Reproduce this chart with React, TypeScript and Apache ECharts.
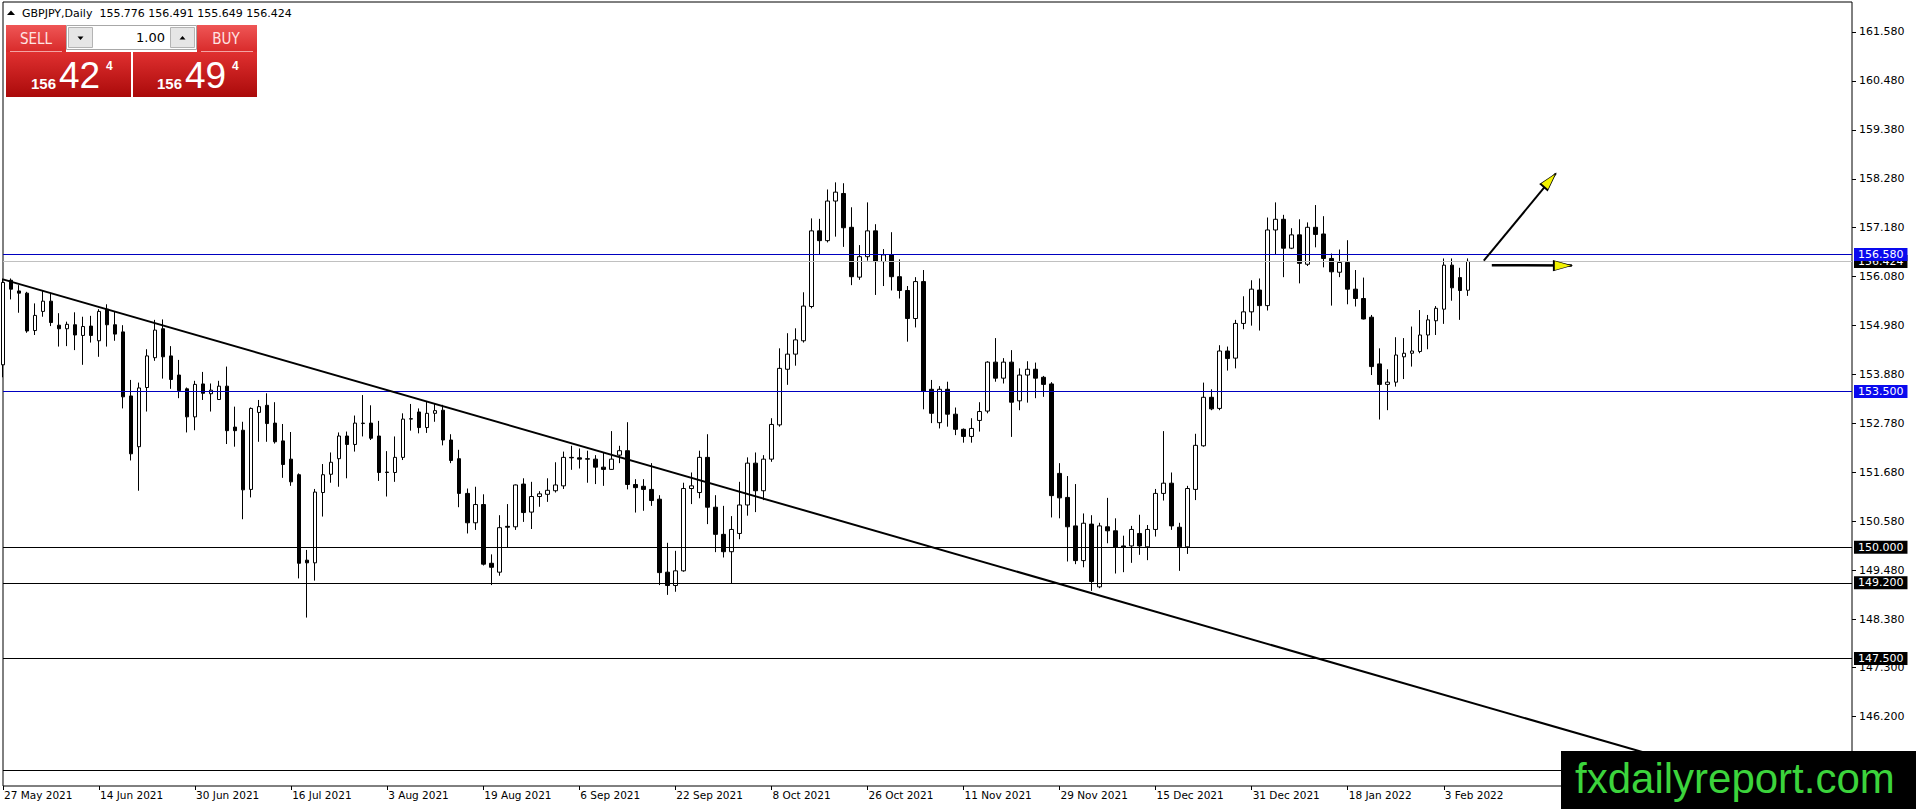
import React, { useEffect, useRef } from 'react'
import * as echarts from 'echarts'
import type { ECharts, EChartsOption } from 'echarts'

const FONT = "'DejaVu Sans', Verdana, sans-serif"
const SANS = "'Liberation Sans', Arial, sans-serif"
const NARROW = "'Liberation Sans Narrow', 'DejaVu Sans Condensed', 'Liberation Sans', sans-serif"

// daily bars, MT4 order: open, high, low, close (27 May 2021 .. 8 Feb 2022)
const candles: number[][] = [
  [154.1, 156.04, 153.82, 155.95],
  [156.0, 156.04, 155.57, 155.8],
  [155.76, 155.89, 155.27, 155.71],
  [155.71, 155.74, 154.82, 154.86],
  [154.87, 155.48, 154.77, 155.21],
  [155.3, 155.78, 155.18, 155.53],
  [155.53, 155.71, 154.97, 155.05],
  [154.99, 155.26, 154.51, 154.91],
  [154.91, 155.07, 154.52, 155.01],
  [155.0, 155.28, 154.43, 154.77],
  [154.76, 155.18, 154.1, 154.96],
  [154.97, 155.2, 154.6, 154.76],
  [154.64, 155.35, 154.28, 155.3],
  [155.35, 155.46, 154.51, 155.0],
  [155.0, 155.3, 154.64, 154.79],
  [154.84, 154.99, 153.12, 153.38],
  [153.4, 153.76, 151.95, 152.1],
  [152.26, 153.7, 151.27, 153.58],
  [153.59, 154.45, 153.05, 154.3],
  [154.26, 155.11, 154.19, 154.88],
  [154.91, 155.12, 153.79, 154.28],
  [154.3, 154.52, 153.56, 153.77],
  [153.87, 154.21, 153.35, 153.52],
  [153.56, 153.59, 152.58, 152.93],
  [152.93, 153.74, 152.63, 153.66],
  [153.67, 153.94, 153.31, 153.46],
  [153.45, 153.68, 153.05, 153.53],
  [153.32, 153.74, 153.31, 153.62],
  [153.62, 154.06, 152.32, 152.62],
  [152.7, 153.16, 152.26, 152.62],
  [152.63, 152.82, 150.63, 151.29],
  [151.3, 153.14, 151.12, 153.12],
  [153.03, 153.31, 152.37, 153.16],
  [153.19, 153.46, 152.37, 152.78],
  [152.79, 153.26, 152.33, 152.37],
  [152.39, 152.77, 151.56, 151.86],
  [151.98, 152.59, 151.38, 151.47],
  [151.63, 151.66, 149.3, 149.64],
  [149.71, 149.94, 148.42, 149.65],
  [149.65, 151.31, 149.25, 151.24],
  [151.23, 151.87, 150.69, 151.63],
  [151.64, 152.13, 151.45, 151.91],
  [151.99, 152.58, 151.36, 152.5],
  [152.5, 152.6, 151.55, 152.31],
  [152.31, 152.96, 152.15, 152.79],
  [152.78, 153.42, 152.49, 152.79],
  [152.79, 153.19, 152.41, 152.45],
  [152.5, 152.84, 151.49, 151.68],
  [151.69, 152.16, 151.14, 151.68],
  [151.68, 152.49, 151.47, 152.02],
  [152.02, 153.01, 151.96, 152.88],
  [152.88, 153.22, 152.62, 152.89],
  [153.04, 153.12, 152.56, 152.69],
  [152.69, 153.27, 152.57, 153.01],
  [153.01, 153.22, 152.82, 153.07],
  [153.08, 153.2, 152.29, 152.41],
  [152.41, 152.54, 151.89, 151.95],
  [151.99, 152.19, 150.9, 151.21],
  [151.21, 151.32, 150.31, 150.55],
  [150.55, 151.36, 150.39, 150.96],
  [150.96, 151.19, 149.59, 149.62],
  [149.64, 149.84, 149.15, 149.55],
  [149.44, 150.72, 149.36, 150.44],
  [150.47, 150.97, 150.0, 150.45],
  [150.46, 151.41, 150.39, 151.4],
  [151.42, 151.55, 150.57, 150.78],
  [150.79, 151.47, 150.41, 151.14],
  [151.14, 151.26, 150.91, 151.2],
  [151.19, 151.55, 151.02, 151.28],
  [151.27, 151.91, 151.23, 151.4],
  [151.38, 152.15, 151.31, 152.02],
  [152.02, 152.28, 151.74, 152.01],
  [152.01, 152.22, 151.77, 151.98],
  [151.99, 152.17, 151.45, 151.98],
  [151.98, 152.07, 151.42, 151.8],
  [151.8, 152.13, 151.38, 151.75],
  [151.75, 152.61, 151.74, 151.98],
  [152.07, 152.28, 151.89, 152.17],
  [152.17, 152.81, 151.3, 151.41],
  [151.41, 151.53, 150.78, 151.34],
  [151.37, 151.53, 150.82, 151.3],
  [151.3, 151.89, 150.93, 151.05],
  [151.08, 151.17, 149.15, 149.43],
  [149.44, 150.1, 148.93, 149.14],
  [149.14, 149.92, 149.0, 149.47],
  [149.47, 151.45, 149.45, 151.32],
  [151.32, 151.68, 150.97, 151.38],
  [151.23, 152.17, 151.1, 152.02],
  [152.02, 152.54, 150.52, 150.9],
  [150.9, 151.17, 149.89, 150.29],
  [150.29, 150.93, 149.77, 149.9],
  [149.9, 150.7, 149.19, 150.4],
  [150.31, 151.47, 150.18, 150.95],
  [150.95, 152.02, 150.71, 151.89],
  [151.89, 152.13, 150.79, 151.27],
  [151.27, 152.07, 151.06, 151.98],
  [151.98, 152.9, 151.92, 152.76],
  [152.75, 154.47, 152.71, 154.02],
  [154.0, 154.81, 153.65, 154.34],
  [154.34, 154.92, 154.08, 154.66],
  [154.64, 155.73, 154.6, 155.42],
  [155.41, 157.39, 155.37, 157.11],
  [157.11, 157.38, 156.57, 156.89],
  [156.89, 158.04, 156.85, 157.78],
  [157.78, 158.2, 156.98, 157.98],
  [157.95, 158.18, 156.75, 157.18],
  [157.19, 157.64, 155.89, 156.08],
  [156.07, 156.79, 156.01, 156.53],
  [156.53, 157.75, 156.44, 157.11],
  [157.11, 157.26, 155.67, 156.42],
  [156.42, 156.7, 155.87, 156.57],
  [156.57, 157.08, 155.77, 156.08],
  [156.08, 156.47, 155.59, 155.77],
  [155.77, 155.87, 154.62, 155.14],
  [155.14, 156.07, 154.94, 155.97],
  [155.97, 156.23, 153.1, 153.51],
  [153.55, 153.76, 152.79, 153.01],
  [152.8, 153.62, 152.67, 153.55],
  [153.55, 153.72, 152.71, 152.99],
  [152.99, 153.14, 152.52, 152.65],
  [152.65, 152.67, 152.35, 152.49],
  [152.49, 152.9, 152.35, 152.67],
  [152.85, 153.26, 152.6, 153.05],
  [153.06, 154.18, 153.01, 154.16],
  [154.16, 154.7, 153.72, 153.8],
  [153.8, 154.25, 153.68, 154.16],
  [154.16, 154.43, 152.48, 153.26],
  [153.29, 154.02, 153.08, 153.87],
  [153.87, 154.18, 153.25, 154.0],
  [154.0, 154.15, 153.35, 153.8],
  [153.82, 153.85, 153.38, 153.66],
  [153.67, 153.71, 150.67, 151.16],
  [151.66, 151.89, 150.65, 151.11],
  [151.12, 151.6, 149.68, 150.46],
  [150.48, 151.42, 149.62, 149.7],
  [149.7, 150.76, 149.55, 150.54],
  [150.52, 150.72, 149.02, 149.23],
  [149.11, 150.55, 149.08, 150.48],
  [150.46, 151.11, 150.09, 150.37],
  [150.37, 150.65, 149.41, 150.0],
  [150.03, 150.26, 149.44, 150.0],
  [150.03, 150.48, 149.65, 150.4],
  [150.31, 150.73, 149.83, 150.03],
  [150.01, 150.5, 149.71, 150.4],
  [150.4, 151.31, 150.24, 151.21],
  [151.21, 152.61, 151.05, 151.44],
  [151.44, 151.68, 150.39, 150.48],
  [150.45, 150.55, 149.47, 150.01],
  [150.01, 151.38, 149.85, 151.32],
  [151.3, 152.55, 151.06, 152.29],
  [152.28, 153.7, 152.26, 153.37],
  [153.37, 153.55, 153.08, 153.11],
  [153.12, 154.54, 153.08, 154.41],
  [154.41, 154.51, 153.97, 154.24],
  [154.25, 155.11, 154.02, 155.03],
  [155.03, 155.64, 154.9, 155.29],
  [155.29, 156.0, 154.98, 155.8],
  [155.78, 156.04, 154.87, 155.43],
  [155.43, 157.41, 155.32, 157.13],
  [157.13, 157.75, 156.57, 157.37],
  [157.37, 157.47, 156.07, 156.72],
  [156.72, 157.17, 156.7, 157.02],
  [157.02, 157.37, 155.93, 156.38],
  [156.36, 157.3, 156.32, 157.19],
  [157.19, 157.69, 156.74, 157.03],
  [157.04, 157.44, 156.29, 156.49],
  [156.49, 156.6, 155.43, 156.19],
  [156.18, 156.69, 156.07, 156.4],
  [156.4, 156.9, 155.46, 155.8],
  [155.8, 156.23, 155.41, 155.59],
  [155.59, 156.06, 155.12, 155.13],
  [155.17, 155.22, 153.87, 154.06],
  [154.12, 154.47, 152.87, 153.66],
  [153.66, 154.0, 153.08, 153.71],
  [153.71, 154.72, 153.61, 154.32],
  [154.28, 154.7, 153.78, 154.36],
  [154.36, 154.96, 154.06, 154.41],
  [154.4, 155.33, 154.36, 154.77],
  [154.77, 155.22, 154.45, 155.11],
  [155.09, 155.42, 154.77, 155.37],
  [155.35, 156.49, 155.02, 156.34],
  [156.34, 156.49, 155.54, 155.83],
  [156.06, 156.28, 155.11, 155.77],
  [155.776, 156.491, 155.649, 156.424],
]

// one date label every 12 bars, starting at the first bar
const dateLabels = [
  '27 May 2021', '14 Jun 2021', '30 Jun 2021', '16 Jul 2021', '3 Aug 2021', '19 Aug 2021',
  '6 Sep 2021', '22 Sep 2021', '8 Oct 2021', '26 Oct 2021', '11 Nov 2021', '29 Nov 2021',
  '15 Dec 2021', '31 Dec 2021', '18 Jan 2022', '3 Feb 2022',
]
const yTicks = [
  161.58, 160.48, 159.38, 158.28, 157.18, 156.08, 154.98, 153.88,
  152.78, 151.68, 150.58, 149.48, 148.38, 147.3, 146.2,
]
const blackLevels = [145.0, 147.5, 149.2, 150.0]
const blueLevels = [153.5, 156.58]
const bidPrice = 156.424
const askPrice = 156.494
const lotSize = '1.00'
const trendLine = [[0, 156.02], [210, 145.13]]
const arrowUp = [[184.8, 156.44], [194.2, 158.4]]
const arrowRight = [[185.6, 156.34], [195.8, 156.33]]
const arrowAngles = [49, 0]
const slotCount = 232
const yMin = 144.635
const yMax = 162.253

const slots = Array.from({ length: slotCount }, (_, i) => String(i))
const isDateSlot = (i: number) => i % 12 === 0 && i / 12 < dateLabels.length

function levelLine(value: number, lineColor: string, boxColor: string) {
  return {
    yAxis: value,
    lineStyle: { color: lineColor, width: 1, type: 'solid' },
    label: {
      show: true,
      position: 'end',
      distance: 2,
      formatter: value.toFixed(3),
      color: '#fff',
      backgroundColor: boxColor,
      padding: [1, 4, 0, 4],
      fontSize: 11,
      lineHeight: 12,
      fontFamily: FONT,
    },
  }
}

function segment(pts: number[][], width: number) {
  return [
    { coord: pts[0], lineStyle: { color: '#000', width, type: 'solid' }, label: { show: false } },
    { coord: pts[1] },
  ]
}

function priceParts(p: number) {
  const s = p.toFixed(3)
  return [s.slice(0, 3), s.slice(4, 6), s.slice(6)]
}

function buildGraphics() {
  const topRed = new echarts.graphic.LinearGradient(0, 0, 0, 1, [
    { offset: 0, color: '#ef5656' },
    { offset: 1, color: '#d82a2a' },
  ])
  const priceRed = new echarts.graphic.LinearGradient(0, 0, 0, 1, [
    { offset: 0, color: '#e03030' },
    { offset: 1, color: '#aa0a0a' },
  ])
  const last = candles[candles.length - 1]
  const header = 'GBPJPY,Daily  ' + last.map((v) => v.toFixed(3)).join(' ')
  const bid = priceParts(bidPrice)
  const ask = priceParts(askPrice)

  const priceTexts = (x0: number, parts: string[]) => [
    { type: 'text', x: x0, y: 83, style: { text: parts[0], fill: '#fff', fontSize: 15, fontWeight: 'bold', fontFamily: SANS, verticalAlign: 'middle' } },
    { type: 'text', x: x0 + 28, y: 75, style: { text: parts[1], fill: '#fff', fontSize: 37, fontFamily: SANS, verticalAlign: 'middle' } },
    { type: 'text', x: x0 + 75, y: 66, style: { text: parts[2], fill: '#fff', fontSize: 12, fontWeight: 'bold', fontFamily: SANS, verticalAlign: 'middle' } },
  ]

  const els: any[] = [
    { type: 'polygon', shape: { points: [[7, 15], [11, 10.5], [15, 15]] }, style: { fill: '#000' } },
    { type: 'text', x: 22, y: 13, style: { text: header, fill: '#000', fontSize: 11, fontFamily: FONT, verticalAlign: 'middle' } },
    // sell
    { type: 'rect', shape: { x: 6, y: 25, width: 60, height: 27 }, style: { fill: topRed } },
    { type: 'line', shape: { x1: 10, y1: 51.5, x2: 62, y2: 51.5 }, style: { stroke: '#f3a3a3', lineWidth: 1 } },
    { type: 'text', x: 36, y: 38.5, style: { text: 'SELL', fill: '#ffe4e4', fontSize: 15, fontFamily: NARROW, align: 'center', verticalAlign: 'middle' } },
    // lot size spinner
    { type: 'rect', shape: { x: 66.5, y: 25.5, width: 130, height: 24 }, style: { fill: '#fff', stroke: '#a8a8a8', lineWidth: 1 } },
    { type: 'rect', shape: { x: 68.5, y: 27.5, width: 24, height: 20 }, style: { fill: '#e6e6e6', stroke: '#b4b4b4', lineWidth: 1 } },
    { type: 'polygon', shape: { points: [[77.5, 36.5], [83.5, 36.5], [80.5, 40]] }, style: { fill: '#000' } },
    { type: 'rect', shape: { x: 170.5, y: 27.5, width: 24, height: 20 }, style: { fill: '#e6e6e6', stroke: '#b4b4b4', lineWidth: 1 } },
    { type: 'polygon', shape: { points: [[179.5, 39.5], [185.5, 39.5], [182.5, 36]] }, style: { fill: '#000' } },
    { type: 'text', x: 165, y: 37.5, style: { text: lotSize, fill: '#000', fontSize: 13, fontFamily: FONT, align: 'right', verticalAlign: 'middle' } },
    // buy
    { type: 'rect', shape: { x: 197, y: 25, width: 60, height: 27 }, style: { fill: topRed } },
    { type: 'line', shape: { x1: 201, y1: 51.5, x2: 253, y2: 51.5 }, style: { stroke: '#f3a3a3', lineWidth: 1 } },
    { type: 'text', x: 226, y: 38.5, style: { text: 'BUY', fill: '#ffe4e4', fontSize: 15, fontFamily: NARROW, align: 'center', verticalAlign: 'middle' } },
    // bid / ask boxes
    { type: 'rect', shape: { x: 6, y: 52, width: 125, height: 45 }, style: { fill: priceRed } },
    { type: 'rect', shape: { x: 133, y: 52, width: 124, height: 45 }, style: { fill: priceRed } },
    ...priceTexts(31, bid),
    ...priceTexts(157, ask),
    // watermark
    { type: 'rect', shape: { x: 1561, y: 751, width: 355, height: 58 }, style: { fill: '#000' } },
    { type: 'text', x: 1575, y: 778, style: { text: 'fxdailyreport.com', fill: '#3cd43c', fontSize: 42, fontFamily: SANS, verticalAlign: 'middle' } },
  ]
  return els.map((e) => ({ ...e, z: 100, silent: true }))
}

export default function App() {
  const chartRef = useRef<HTMLDivElement | null>(null)
  const chartInstance = useRef<ECharts | null>(null)

  useEffect(() => {
    document.body.style.margin = '0'

    const option: EChartsOption = {
      animation: false,
      backgroundColor: '#fff',
      grid: {
        left: 3,
        right: 64,
        top: 2,
        bottom: 23,
        show: true,
        borderColor: '#000',
        borderWidth: 1,
        backgroundColor: '#fff',
      },
      xAxis: {
        type: 'category',
        data: slots,
        boundaryGap: false,
        axisLine: { show: false },
        splitLine: { show: false },
        axisTick: { show: true, interval: isDateSlot, length: 4, lineStyle: { color: '#000' } },
        axisLabel: {
          interval: isDateSlot,
          formatter: (v: string) => dateLabels[Number(v) / 12] ?? '',
          align: 'left',
          margin: 3,
          padding: [0, 0, 0, 1],
          color: '#000',
          fontSize: 10.5,
          fontFamily: FONT,
        },
      },
      yAxis: {
        type: 'value',
        position: 'right',
        min: yMin,
        max: yMax,
        scale: true,
        axisLine: { show: false },
        splitLine: { show: false },
        axisTick: { show: true, customValues: yTicks, length: 4, lineStyle: { color: '#000' } },
        axisLabel: {
          customValues: yTicks,
          formatter: (v: number) => v.toFixed(3),
          margin: 7,
          color: '#000',
          fontSize: 11,
          fontFamily: FONT,
        },
      } as any,
      series: [
        {
          type: 'candlestick',
          data: candles.map(([o, h, l, c]) => [o, c, l, h]),
          barWidth: 4,
          itemStyle: {
            color: '#fff',
            color0: '#000',
            borderColor: '#000',
            borderColor0: '#000',
            borderColorDoji: '#000',
            borderWidth: 1,
          },
          markLine: {
            silent: true,
            animation: false,
            symbol: ['none', 'none'],
            data: [
              ...blackLevels.map((v) => levelLine(v, '#000', '#000')),
              levelLine(bidPrice, '#c0c0c0', '#000'),
              ...blueLevels.map((v) => levelLine(v, '#0000c0', '#0a0aee')),
              segment(trendLine, 2),
              segment(arrowUp, 2),
              segment(arrowRight, 2.5),
            ],
          },
          markPoint: {
            silent: true,
            animation: false,
            // head drawn left of the centre so that the tip sits on the coord
            symbol: 'path://M0,0L18,5L0,10ZM36,5L36,5',
            symbolSize: [36, 10],
            itemStyle: { color: '#f2f200', borderColor: '#000', borderWidth: 1 },
            label: { show: false },
            data: [
              { coord: arrowUp[1], symbolRotate: arrowAngles[0] },
              { coord: arrowRight[1], symbolRotate: arrowAngles[1] },
            ],
          },
        } as any,
      ],
      graphic: buildGraphics(),
    }

    if (chartRef.current) {
      chartInstance.current = echarts.init(chartRef.current, undefined, { renderer: 'svg' })
      chartInstance.current.setOption(option)
    }

    return () => {
      chartInstance.current?.dispose()
    }
  }, [])

  return (
    <div
      ref={chartRef}
      style={{ position: 'absolute', left: 0, top: 0, width: '1916px', height: '809px' }}
    />
  )
}
